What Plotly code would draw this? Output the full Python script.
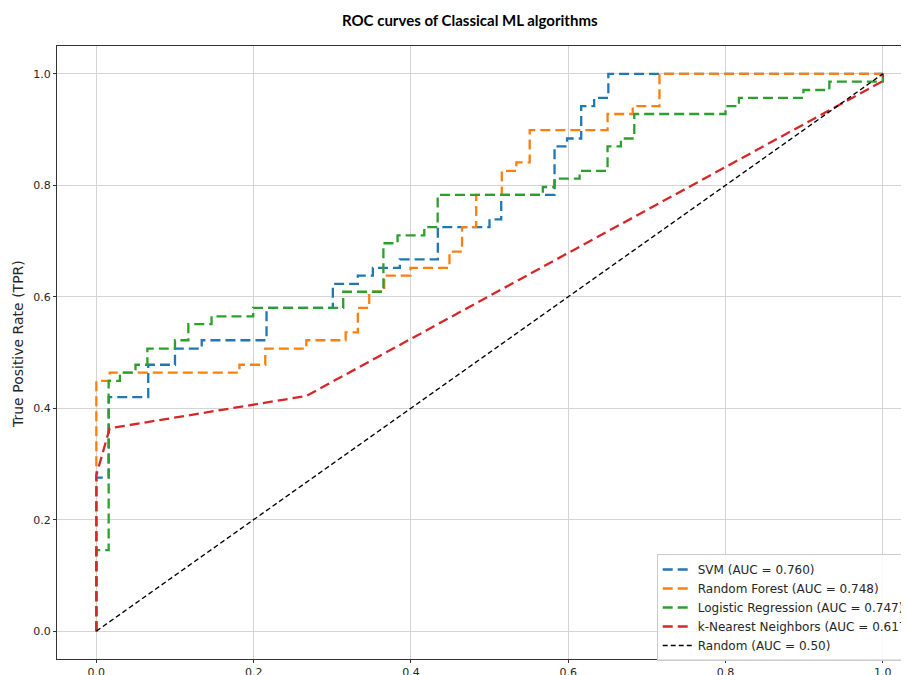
import plotly.graph_objects as go

# ---------------- data ----------------
svm_fpr = [0.0, 0.0, 0.0157, 0.0157, 0.066, 0.066, 0.100, 0.100, 0.134, 0.134, 0.2164, 0.2164,
           0.3007, 0.3007, 0.3325, 0.3325, 0.3516, 0.3516, 0.3859, 0.3859, 0.4342, 0.4342,
           0.4999, 0.4999, 0.5148, 0.5148, 0.5826, 0.5826, 0.5985, 0.5985, 0.6165, 0.6165,
           0.633, 0.633, 0.651, 0.651, 1.0]
svm_tpr = [0.0, 0.2755, 0.2755, 0.420, 0.420, 0.478, 0.478, 0.507, 0.507, 0.522, 0.522, 0.580,
           0.580, 0.623, 0.623, 0.638, 0.638, 0.652, 0.652, 0.667, 0.667, 0.725, 0.725,
           0.739, 0.739, 0.783, 0.783, 0.870, 0.870, 0.884, 0.884, 0.942, 0.942, 0.957,
           0.957, 1.0, 1.0]

rf_fpr = [0.0, 0.0, 0.017, 0.017, 0.182, 0.182, 0.2148, 0.2148, 0.267, 0.267, 0.317, 0.317,
          0.3325, 0.3325, 0.347, 0.347, 0.366, 0.366, 0.3995, 0.3995, 0.449, 0.449, 0.465,
          0.465, 0.483, 0.483, 0.5155, 0.5155, 0.534, 0.534, 0.551, 0.551, 0.650, 0.650,
          0.682, 0.682, 0.716, 0.716, 1.0]
rf_tpr = [0.0, 0.449, 0.449, 0.464, 0.464, 0.478, 0.478, 0.507, 0.507, 0.522, 0.522, 0.536,
          0.536, 0.580, 0.580, 0.609, 0.609, 0.638, 0.638, 0.652, 0.652, 0.681, 0.681,
          0.725, 0.725, 0.783, 0.783, 0.826, 0.826, 0.841, 0.841, 0.899, 0.899, 0.928,
          0.928, 0.942, 0.942, 1.0, 1.0]

lr_fpr = [0.0, 0.0, 0.0157, 0.0157, 0.030, 0.030, 0.0498, 0.0498, 0.0649, 0.0649, 0.100, 0.100,
          0.117, 0.117, 0.1465, 0.1465, 0.1995, 0.1995, 0.3139, 0.3139, 0.365, 0.365, 0.383,
          0.383, 0.417, 0.417, 0.434, 0.434, 0.5677, 0.5677, 0.5826, 0.5826, 0.6145, 0.6145,
          0.650, 0.650, 0.667, 0.667, 0.684, 0.684, 0.800, 0.800, 0.817, 0.817, 0.899, 0.899,
          0.932, 0.932, 1.0, 1.0]
lr_tpr = [0.0, 0.1455, 0.1455, 0.449, 0.449, 0.464, 0.464, 0.478, 0.478, 0.507, 0.507, 0.522,
          0.522, 0.551, 0.551, 0.565, 0.565, 0.580, 0.580, 0.609, 0.609, 0.696, 0.696, 0.710,
          0.710, 0.725, 0.725, 0.783, 0.783, 0.797, 0.797, 0.812, 0.812, 0.826, 0.826, 0.870,
          0.870, 0.884, 0.884, 0.928, 0.928, 0.942, 0.942, 0.957, 0.957, 0.971, 0.971, 0.986,
          0.986, 1.0]

knn_fpr = [0.0, 0.0, 0.017, 0.267, 1.0, 1.0]
knn_tpr = [0.0, 0.280, 0.364, 0.422, 0.987, 1.0]

rand_fpr = [0.0, 1.0]
rand_tpr = [0.0, 1.0]

names = ["SVM (AUC = 0.760)", "Random Forest (AUC = 0.748)",
         "Logistic Regression (AUC = 0.747)", "k-Nearest Neighbors (AUC = 0.617)"]
colors = ["#1f77b4", "#ff7f0e", "#2ca02c", "#d62728"]
title_text = "ROC curves of Classical ML algorithms"
ylabel_text = "True Positive Rate (TPR)"
tick_vals = [0.0, 0.2, 0.4, 0.6, 0.8, 1.0]

# ---------------- figure ----------------
fig = go.Figure()
series = [(svm_fpr, svm_tpr), (rf_fpr, rf_tpr), (lr_fpr, lr_tpr), (knn_fpr, knn_tpr)]
for (fx, ty), nm, col in zip(series, names, colors):
    fig.add_trace(go.Scatter(x=fx, y=ty, mode="lines", name=nm,
                             line=dict(color=col, width=2.3, dash="10px,5px")))
fig.add_trace(go.Scatter(x=rand_fpr, y=rand_tpr, mode="lines", name="Random (AUC = 0.50)",
                         line=dict(color="black", width=1.3, dash="5px,3px")))

# the page body has an 8px margin, so the figure is drawn 8px in from the window edge
OFF = 8
W, H = 909 - OFF, 675 - OFF
ml, mr, mt, mb = 57 - OFF, 0, 46 - OFF, 16
pw = W - ml - mr
ph = H - mt - mb
px_per_unit_x = 786.5
x_lo = -0.05
x_hi = x_lo + pw / px_per_unit_x


def px_x(page_x):
    return (page_x - OFF - ml) / pw


def px_y(page_y):
    return (H - mb - (page_y - OFF)) / ph


axis_common = dict(
    showgrid=True, gridcolor="#d4d4d4", gridwidth=1,
    zeroline=False, showline=True, linecolor="#333333", linewidth=1,
    ticks="outside", ticklen=3, tickcolor="#333333",
    tickvals=tick_vals, ticktext=[f"{v:.1f}" for v in tick_vals],
    tickfont=dict(family="DejaVu Sans", size=11, color="#262626"),
)

fig.update_layout(
    width=W, height=H,
    margin=dict(l=ml, r=mr, t=mt, b=mb, autoexpand=False),
    paper_bgcolor="white", plot_bgcolor="white",
    xaxis=dict(range=[x_lo, x_hi], mirror=True, **axis_common),
    yaxis=dict(range=[-0.05, 1.05], mirror=False, **axis_common),
    showlegend=True,
    legend=dict(
        x=px_x(656.7), y=px_y(554), xanchor="left", yanchor="top",
        bgcolor="rgba(255,255,255,0.85)", bordercolor="#cccccc", borderwidth=1,
        font=dict(family="DejaVu Sans", size=12, color="#262626"),
        itemwidth=30, tracegroupgap=0,
    ),
    annotations=[
        dict(text="<b>" + title_text + "</b>", xref="paper", yref="paper",
             x=px_x(470), y=px_y(20), xanchor="center", yanchor="middle",
             showarrow=False, font=dict(family="Lato", size=15, color="black")),
        dict(text=ylabel_text, xref="paper", yref="paper",
             x=px_x(18), y=px_y(344), xanchor="center", yanchor="middle",
             textangle=-90, showarrow=False,
             font=dict(family="DejaVu Sans", size=14, color="#262626")),
    ],
)

fig.write_html("out.html")
